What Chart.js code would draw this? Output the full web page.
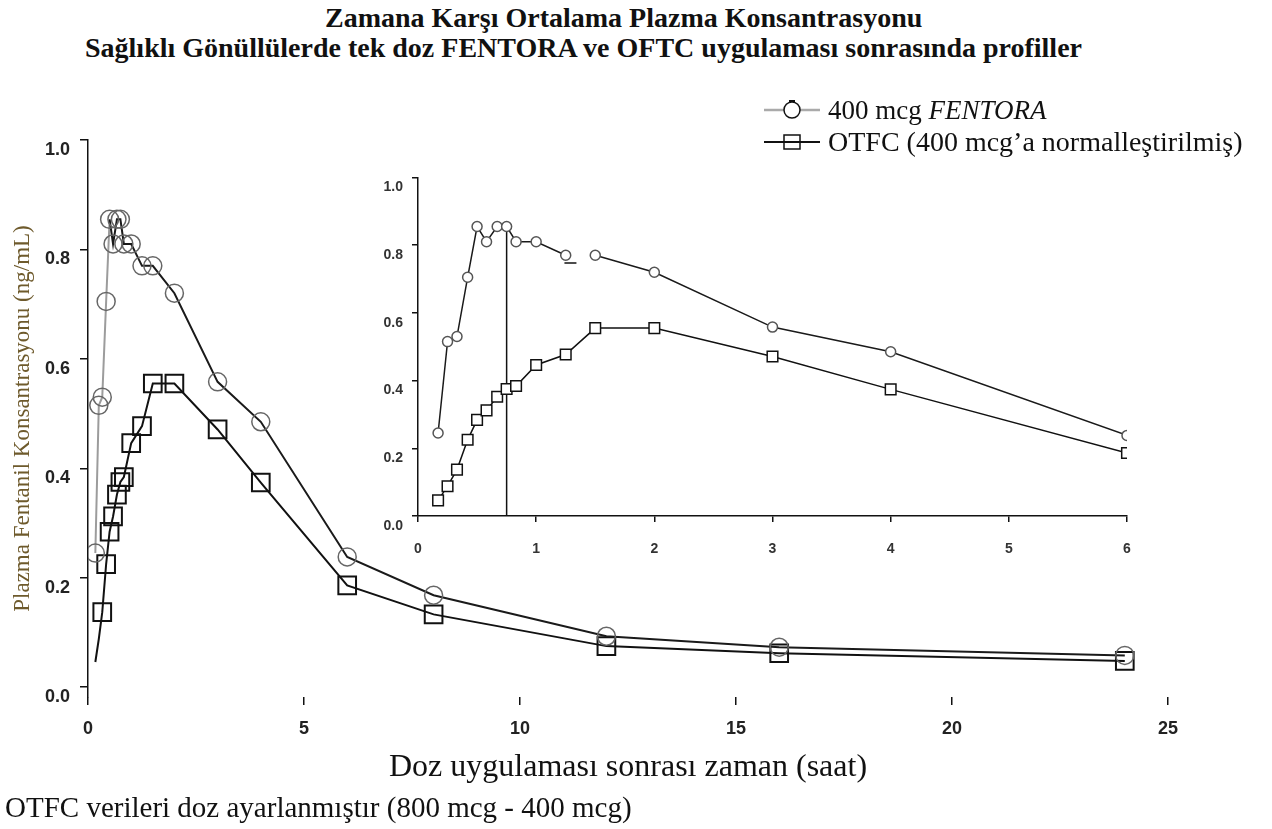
<!DOCTYPE html>
<html lang="tr">
<head>
    <meta charset="UTF-8">
    <script src="https://cdn.jsdelivr.net/npm/chart.js"></script>
    <title>Plazma Konsantrasyonu</title>
    <style>
        body {
            margin: 0;
            width: 1272px;
            height: 829px;
            position: relative;
            overflow: hidden;
            background: #fff;
            font-family: "Liberation Serif", "Times New Roman", serif;
            color: #111;
        }
        #main { position: absolute; left: 0; top: 0; }
        #inset { position: absolute; left: 340px; top: 160px; }
        .title {
            position: absolute;
            font-weight: bold;
            font-size: 28px;
            white-space: nowrap;
            line-height: 1;
        }
        #legend {
            position: absolute;
            left: 762px;
            top: 94px;
            font-size: 27px;
            line-height: 1;
        }
        #legend .row { display: flex; align-items: center; height: 32px; white-space: nowrap; }
        #legend .row.wide { font-size: 28px; }
        #legend svg { margin-right: 6px; }
        #note {
            position: absolute;
            left: 5px;
            top: 793px;
            font-size: 29px;
            white-space: nowrap;
            line-height: 1;
        }
    </style>
</head>

<body>
    <div class="title" style="left:325px; top:4px;">Zamana Karşı Ortalama Plazma Konsantrasyonu</div>
    <div class="title" style="left:85px; top:34px;">Sağlıklı Gönüllülerde tek doz FENTORA ve OFTC uygulaması sonrasında profiller</div>

    <canvas id="main" width="1272" height="829"></canvas>
    <canvas id="inset" width="820" height="400"></canvas>

    <div id="legend">
        <div class="row">
            <svg width="60" height="24"><line x1="2" y1="12" x2="58" y2="12" stroke="#aaa" stroke-width="2.5"/><circle cx="30" cy="12" r="8" fill="#fff" stroke="#111" stroke-width="1.5"/><line x1="27" y1="3" x2="33" y2="3" stroke="#111" stroke-width="2"/></svg>
            <span>400 mcg <i>FENTORA</i></span>
        </div>
        <div class="row wide">
            <svg width="60" height="24"><line x1="2" y1="12" x2="58" y2="12" stroke="#111" stroke-width="2"/><rect x="22" y="5" width="16" height="14" fill="none" stroke="#111" stroke-width="1.5"/></svg>
            <span>OTFC (400 mcg’a normalleştirilmiş)</span>
        </div>
    </div>

    <div id="note">OTFC verileri doz ayarlanmıştır (800 mcg - 400 mcg)</div>

    <script>
        // sampling times (hours) and mean concentrations (ng/mL)
        const times = [0.17, 0.25, 0.33, 0.42, 0.5, 0.58, 0.67, 0.75, 0.83, 1, 1.25, 1.5, 2, 3, 4, 6, 8, 12, 16, 24];
        const fentora = [0.245, 0.515, 0.53, 0.705, 0.855, 0.81, 0.855, 0.855, 0.81, 0.81, 0.77, 0.77, 0.72, 0.558, 0.485, 0.238, 0.168, 0.093, 0.073, 0.058];
        const otfc = [0.046, 0.088, 0.137, 0.225, 0.284, 0.312, 0.352, 0.375, 0.384, 0.446, 0.477, 0.555, 0.555, 0.471, 0.374, 0.186, 0.133, 0.075, 0.062, 0.048];

        const mainXTicks = [0, 5, 10, 15, 20, 25];
        const insetXTicks = [0, 1, 2, 3, 4, 5, 6];
        const yTicks = [0, 0.2, 0.4, 0.6, 0.8, 1.0];

        // inset extras: vertical marker at 45 min, a stray dash and a break in the FENTORA line
        const markerTime = 0.75;
        const markerLevel = 0.855;
        const dashPoint = { x: 1.29, y: 0.747 };
        const insetGapAfter = 1.25;
        const insetMaxTime = 6;

        const pts = (ys, maxT) => times
            .map((t, i) => ({ x: t, y: ys[i] }))
            .filter(p => maxT === undefined || p.x <= maxT);

        const tickFont = size => ({ family: 'Liberation Sans', size: size, weight: 'bold' });

        new Chart(document.getElementById('main'), {
            type: 'line',
            data: {
                datasets: [{
                    label: '400 mcg FENTORA',
                    data: pts(fentora),
                    borderColor: '#1a1a1a',
                    borderWidth: 2,
                    pointStyle: 'circle',
                    pointRadius: 9,
                    pointBorderColor: '#666',
                    pointBorderWidth: 1.5,
                    pointBackgroundColor: 'rgba(0,0,0,0)',
                    segment: {
                        borderColor: c => c.p0DataIndex < 4 ? '#9c9c9c' : undefined
                    }
                }, {
                    label: 'OTFC (400 mcg’a normalleştirilmiş)',
                    data: pts(otfc),
                    borderColor: '#111',
                    borderWidth: 2,
                    pointStyle: 'rect',
                    pointRadius: c => c.dataIndex < 2 ? 0 : 12.5,
                    pointBorderColor: '#111',
                    pointBorderWidth: 2,
                    pointBackgroundColor: 'rgba(0,0,0,0)'
                }]
            },
            options: {
                responsive: false,
                animation: false,
                events: [],
                layout: { padding: { top: 140, right: 104, left: 0, bottom: 0 } },
                plugins: { legend: { display: false }, tooltip: { enabled: false } },
                scales: {
                    x: {
                        type: 'linear',
                        min: 0,
                        max: 25,
                        afterBuildTicks: s => { s.ticks = mainXTicks.map(v => ({ value: v })); },
                        afterFit: s => { s.height = 132; },
                        border: { display: false },
                        grid: { drawOnChartArea: false, color: '#111', lineWidth: 1.5, tickLength: 8 },
                        ticks: { color: '#222', font: tickFont(18), padding: 13, maxRotation: 0 },
                        title: {
                            display: true,
                            text: 'Doz uygulaması sonrası zaman (saat)',
                            color: '#111',
                            font: { family: 'Liberation Serif', size: 32 },
                            padding: { top: 0, bottom: 42 }
                        }
                    },
                    y: {
                        min: -0.018,
                        max: 1.0,
                        afterBuildTicks: s => { s.ticks = yTicks.map(v => ({ value: v })); },
                        afterFit: s => { s.width = 88; },
                        border: { display: true, color: '#111', width: 1.5 },
                        grid: { drawOnChartArea: false, color: '#111', lineWidth: 1.5, tickLength: 8 },
                        ticks: {
                            color: '#222',
                            font: tickFont(18),
                            padding: 10,
                            labelOffset: 10,
                            callback: v => v.toFixed(1)
                        },
                        title: {
                            display: true,
                            text: 'Plazma Fentanil Konsantrasyonu (ng/mL)',
                            color: '#6e5a2c',
                            font: { family: 'Liberation Serif', size: 23 },
                            padding: { top: 9, bottom: 0 }
                        }
                    }
                }
            }
        });

        new Chart(document.getElementById('inset'), {
            type: 'line',
            data: {
                datasets: [{
                    data: pts(fentora, insetMaxTime),
                    borderColor: '#1a1a1a',
                    borderWidth: 1.5,
                    pointStyle: 'circle',
                    pointRadius: 5,
                    pointBorderColor: '#555',
                    pointBorderWidth: 1.5,
                    pointBackgroundColor: '#fff',
                    segment: {
                        borderColor: c => c.p0.parsed.x === insetGapAfter ? 'rgba(0,0,0,0)' : undefined
                    }
                }, {
                    data: pts(otfc, insetMaxTime),
                    borderColor: '#111',
                    borderWidth: 1.5,
                    pointStyle: 'rect',
                    pointRadius: 7.5,
                    pointBorderColor: '#111',
                    pointBorderWidth: 1.5,
                    pointBackgroundColor: '#fff'
                }, {
                    data: [{ x: markerTime, y: 0 }, { x: markerTime, y: markerLevel }],
                    borderColor: '#111',
                    borderWidth: 1.5,
                    pointRadius: 0
                }, {
                    data: [dashPoint],
                    showLine: false,
                    pointStyle: 'line',
                    pointRadius: 6,
                    pointBorderColor: '#111',
                    pointBorderWidth: 1.5
                }]
            },
            options: {
                responsive: false,
                animation: false,
                events: [],
                layout: { padding: { top: 12, right: 33, left: 0, bottom: 0 } },
                plugins: { legend: { display: false }, tooltip: { enabled: false } },
                scales: {
                    x: {
                        type: 'linear',
                        min: 0,
                        max: 6,
                        afterBuildTicks: s => { s.ticks = insetXTicks.map(v => ({ value: v })); },
                        afterFit: s => { s.height = 44; },
                        border: { display: true, color: '#111', width: 1.5 },
                        grid: { drawOnChartArea: false, color: '#111', lineWidth: 1.5, tickLength: 6 },
                        ticks: { color: '#333', font: tickFont(14), padding: 19, maxRotation: 0 }
                    },
                    y: {
                        min: 0,
                        max: 1.0,
                        afterBuildTicks: s => { s.ticks = yTicks.map(v => ({ value: v })); },
                        afterFit: s => { s.width = 78; },
                        border: { display: true, color: '#111', width: 1.5 },
                        grid: { drawOnChartArea: false, color: '#111', lineWidth: 1.5, tickLength: 6 },
                        ticks: {
                            color: '#333',
                            font: tickFont(14),
                            padding: 9,
                            labelOffset: 10,
                            callback: v => v.toFixed(1)
                        }
                    }
                }
            }
        });
    </script>
</body>

</html>
